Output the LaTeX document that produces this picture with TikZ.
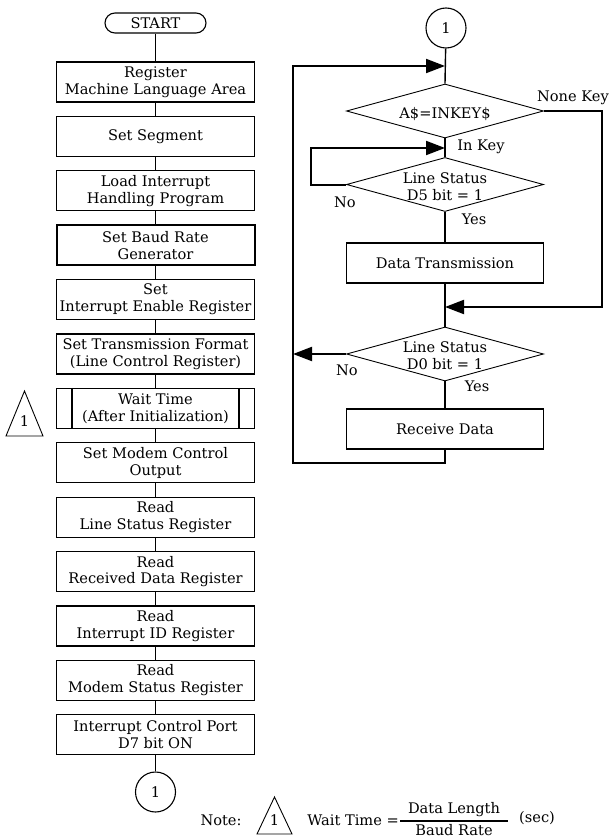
\documentclass[tikz,border=0pt]{standalone}
\usepackage{fontspec}
\setmainfont{DejaVu Serif}
\usetikzlibrary{shapes.geometric,arrows.meta}
\tikzset{
  txt/.style={font=\fontsize{14.6}{16.8}\selectfont, align=center, inner sep=0pt},
  pbox/.style={txt, draw, line width=1.1pt, minimum width=198pt, minimum height=40pt},
  rbox/.style={txt, draw, line width=1.1pt, minimum width=197pt, minimum height=40pt},
  dia/.style={draw, diamond, line width=0.9pt, minimum width=197pt, minimum height=54pt, inner sep=0pt},
  conn/.style={txt, draw, circle, line width=1.1pt, minimum size=40pt},
  flow/.style={line width=1.4pt},
  loopln/.style={line width=2pt},
  arr/.style={-{Triangle[length=19pt,width=14pt]}},
  lbl/.style={txt}
}
\begin{document}
\begin{tikzpicture}[x=1pt,y=-1pt]
\useasboundingbox (0,0) rectangle (609,840);
% ---------- left column ----------
\node[txt, draw, line width=1.1pt, rounded corners=10pt, minimum width=101pt, minimum height=20pt] (start) at (155.5,23) {START};
\node[pbox] (b1) at (155.5,82) {Register\\Machine Language Area};
\node[pbox] (b2) at (155.5,136.4) {Set Segment};
\node[pbox] (b3) at (155.5,190.8) {Load Interrupt\\Handling Program};
\node[pbox, line width=2pt] (b4) at (155.5,245.2) {Set Baud Rate\\Generator};
\node[pbox] (b5) at (155.5,299.6) {Set\\Interrupt Enable Register};
\node[pbox] (b6) at (155.5,354) {Set Transmission Format\\(Line Control Register)};
\node[pbox] (b7) at (155.5,408.4) {Wait Time\\(After Initialization)};
\node[pbox] (b8) at (155.5,462.8) {Set Modem Control\\Output};
\node[pbox] (b9) at (155.5,517.2) {Read\\Line Status Register};
\node[pbox] (b10) at (155.5,571.6) {Read\\Received Data Register};
\node[pbox] (b11) at (155.5,626) {Read\\Interrupt ID Register};
\node[pbox] (b12) at (155.5,680.4) {Read\\Modem Status Register};
\node[pbox] (b13) at (155.5,734.8) {Interrupt Control Port\\D7 bit ON};
\node[conn] (c1) at (155.5,792) {1};
\draw[line width=1.4pt] ([xshift=16pt]b7.north west) -- ([xshift=16pt]b7.south west);
\draw[line width=1.4pt] ([xshift=-16pt]b7.north east) -- ([xshift=-16pt]b7.south east);
\foreach \a/\b in {start/b1,b1/b2,b2/b3,b3/b4,b4/b5,b5/b6,b6/b7,b7/b8,b8/b9,b9/b10,b10/b11,b11/b12,b12/b13,b13/c1}
  \draw[flow] (\a) -- (\b);
% triangle marker
\draw[line width=0.9pt] (6,436) -- (24.5,391) -- (43,436) -- cycle;
\node[lbl] (m1) at (24.5,421) {1};
% ---------- right column ----------
\node[conn] (c2) at (446,28) {1};
\node[dia] (d1) at (445,111) {};
\node[lbl] (d1t) at (445,114) {A\$=INKEY\$};
\node[dia] (d2) at (445,184.5) {};
\node[lbl] (d2t) at (445,187) {Line Status\\D5 bit = 1};
\node[rbox] (dt) at (445,263) {Data Transmission};
\node[dia] (d3) at (445,354) {};
\node[lbl] (d3t) at (445,356) {Line Status\\D0 bit = 1};
\node[rbox] (rd) at (445,429) {Receive Data};
\coordinate (j1) at (445,66);
\coordinate (jk) at (445,148);
\coordinate (lp) at (311,148);
\coordinate (jn) at (445,307);
\coordinate (rc) at (602,307);
\coordinate (nl) at (293,354);
\coordinate (bl) at (293,463);
\draw[flow] (c2) -- (d1.north);
\draw[flow] (d1.south) -- (d2.north);
\draw[flow] (d2.south) -- (dt.north);
\draw[flow] (dt.south) -- (d3.north);
\draw[flow] (d3.south) -- (rd.north);
\draw[loopln, arr] (rd.south) |- (bl) |- (j1);
\draw[loopln, arr] (d2.west) -| (lp) -- (jk);
\draw[loopln, arr] (d1.east) -| (rc) -- (jn);
\draw[loopln, arr] (d3.west) -- (nl);
\node[lbl] (nk) at (573,98) {None Key};
\node[lbl] (ik) at (481,147) {In Key};
\node[lbl] (no1) at (345,202) {No};
\node[lbl] (ys1) at (474,219) {Yes};
\node[lbl] (no2) at (347,370) {No};
\node[lbl] (ys2) at (477,386) {Yes};
% ---------- note ----------
\node[lbl] (note) at (221,820) {Note:};
\draw[line width=0.9pt] (257,834) -- (274.5,797) -- (292,834) -- cycle;
\node[lbl] (m2) at (274.5,820) {1};
\node[lbl, anchor=east] (wt) at (399,820) {Wait Time =};
\node[lbl] (num) at (454,810) {Data Length};
\node[lbl] (den) at (454,830) {Baud Rate};
\draw[line width=2pt] (400,821) -- (508,821);
\node[lbl, anchor=west] (sec) at (519,818) {(sec)};
\end{tikzpicture}
\end{document}
